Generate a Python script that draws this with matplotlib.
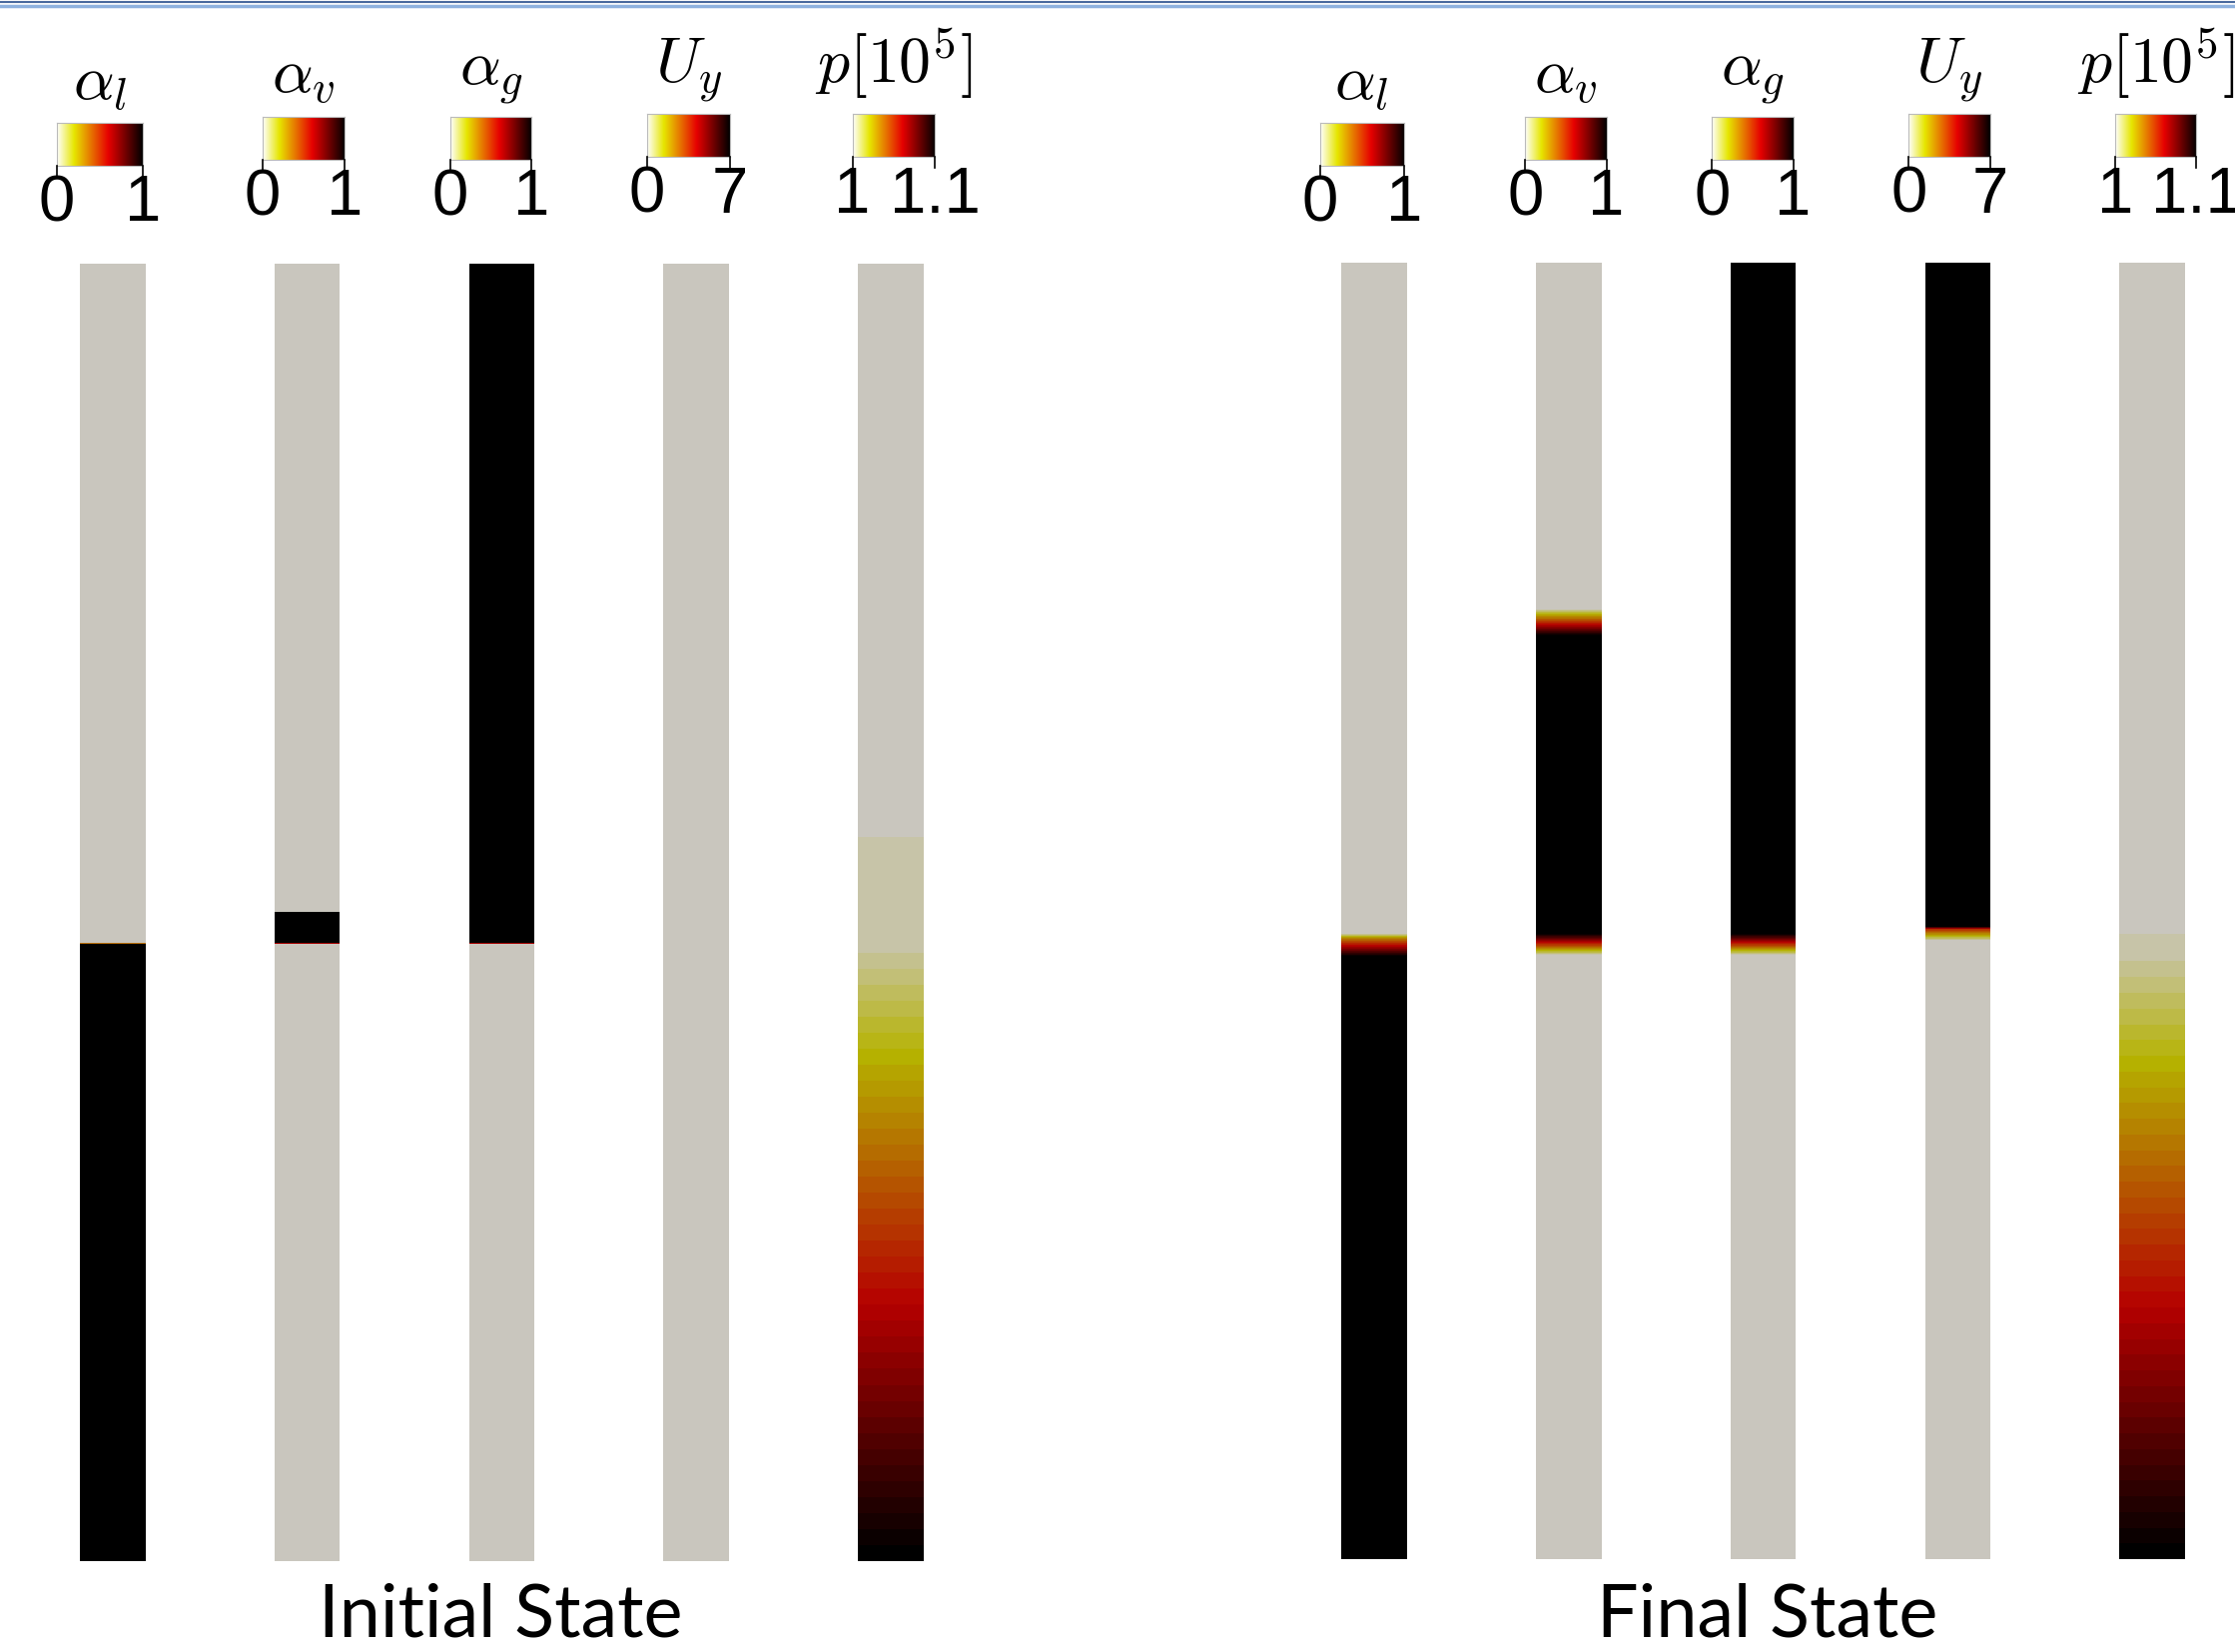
import numpy as np
import matplotlib.pyplot as plt
from matplotlib.colors import LinearSegmentedColormap, ListedColormap
from matplotlib.lines import Line2D

plt.rcParams['mathtext.fontset'] = 'cm'

# fields shown in each panel
titles = [r'$\alpha_l$', r'$\alpha_v$', r'$\alpha_g$', r'$U_y$', r'$p[10^5]$']
vmins = [0, 0, 0, 0, 1.0]
vmaxs = [1, 1, 1, 7, 1.1]
range_labels = [('0', '1'), ('0', '1'), ('0', '1'), ('0', '7'), ('1', '1.1')]
states = ['Initial State', 'Final State']

# profiles along the column: z = height (0 bottom, 1 top), v = field value
init_z = [
    [0, 0.47598, 0.47602, 1],
    [0, 0.47598, 0.47602, 0.49998, 0.50002, 1],
    [0, 0.47598, 0.47602, 1],
    [0, 1],
    [0, 0.476, 0.558, 1],
]
init_v = [
    [1, 1, 0, 0],
    [0, 0, 1, 1, 0, 0],
    [0, 0, 1, 1],
    [0, 0],
    [1.1, 1.0035, 1.0025, 1.0],
]
final_z = [
    [0, 0.4648, 0.4791, 0.4824, 1],
    [0, 0.4659, 0.4824, 0.7121, 0.7330, 1],
    [0, 0.4659, 0.4824, 1],
    [0, 0.4769, 0.4857, 0.4879, 1],
    [0, 0.4659, 0.4824, 1],
]
final_v = [
    [1, 1, 0.3, 0, 0],
    [0, 0, 1, 1, 0, 0],
    [0, 0, 1, 1],
    [0, 0, 3.5, 7, 7],
    [1.1, 1.004, 1.0025, 1.0],
]

# colour map (inverted black body) and the lit, discretised version used on the columns
cmap_pos = [0, 0.2, 0.6, 1]
cmap_rgb = np.array([(1, 1, 1), (0.902, 0.902, 0), (0.902, 0, 0), (0, 0, 0)])
SHADE = np.array([0.788, 0.776, 0.745])
N_BANDS = 40
bar_cmap = LinearSegmentedColormap.from_list('bb', list(zip(cmap_pos, cmap_rgb)))
band_rgb = bar_cmap(np.linspace(0, 1, N_BANDS))[:, :3] * SHADE
col_cmap = ListedColormap(band_rgb)

# layout, in pixels of a 1568 x 1159 frame
W, H = 1568.0, 1159.0
COL_W = 0.337
panel_left = [10.75, 895.75]
panel_top = [185, 184]
panel_bot = [1095, 1094]
bar_box = [
    [(40, 100, 86, 116), (184, 242, 82, 112), (316, 373, 82, 112), (454, 512, 80, 110), (598, 656, 80, 110)],
    [(926, 985, 86, 116), (1070, 1127, 82, 112), (1201, 1258, 82, 112), (1339, 1396, 80, 110), (1484, 1541, 80, 110)],
]
title_base = [70, 65, 59, 58, 58]
state_x = [351, 1240]


def fx(x):
    return x / W


def fy(y):
    return 1 - y / H


fig = plt.figure(figsize=(22.38, 16.54), dpi=100)

for s, (zs, vs) in enumerate([(init_z, init_v), (final_z, final_v)]):
    ax = fig.add_axes([fx(panel_left[s]), fy(panel_bot[s]), 682.5 / W, (panel_bot[s] - panel_top[s]) / H])
    for i in range(5):
        z = np.asarray(zs[i], float)
        v = np.asarray(vs[i], float)
        X = np.column_stack([np.full(len(z), i - COL_W / 2), np.full(len(z), i + COL_W / 2)])
        Z = np.column_stack([z, z])
        V = np.column_stack([v, v])
        levels = np.linspace(vmins[i], vmaxs[i], N_BANDS + 1)
        ax.contourf(X, Z, V, levels=levels, cmap=col_cmap, vmin=vmins[i], vmax=vmaxs[i], antialiased=False)
    ax.set_xlim(-0.5, 4.5)
    ax.set_ylim(0, 1)
    ax.axis('off')

    # colour bars
    for i in range(5):
        x0, x1, yt, yb = bar_box[s][i]
        cax = fig.add_axes([fx(x0), fy(yb), (x1 - x0) / W, (yb - yt) / H])
        cax.imshow(np.linspace(0, 1, 256)[None, :], cmap=bar_cmap, aspect='auto',
                   extent=[vmins[i], vmaxs[i], 0, 1])
        cax.set_xticks([])
        cax.set_yticks([])
        for sp in cax.spines.values():
            sp.set_color('#bbbbbb')
            sp.set_linewidth(0.8)
        for xt in (x0, x1):
            fig.add_artist(Line2D([fx(xt), fx(xt)], [fy(yb), fy(yb + 8)], color='black', lw=1.2))
        for xt, lab in zip((x0, x1), range_labels[i]):
            fig.text(fx(xt), fy(yb + 27), lab, ha='center', va='center', fontsize=47,
                     family=['Liberation Sans', 'DejaVu Sans'])
        fig.text(fx((x0 + x1) / 2), fy(title_base[i]), titles[i], ha='center', va='baseline', fontsize=46)

    fig.text(fx(state_x[s]), fy(1134), states[s], ha='center', va='center', fontsize=53, family='Lato')

# blue rule along the top edge
fig.add_artist(Line2D([0, 1], [1 - 1.5 / 1654, 1 - 1.5 / 1654], color='#4a6a9e', lw=1.5))
fig.add_artist(Line2D([0, 1], [1 - 5.5 / 1654, 1 - 5.5 / 1654], color='#8fb2df', lw=2.5))

fig.savefig('out.png', dpi=100, facecolor='white')
